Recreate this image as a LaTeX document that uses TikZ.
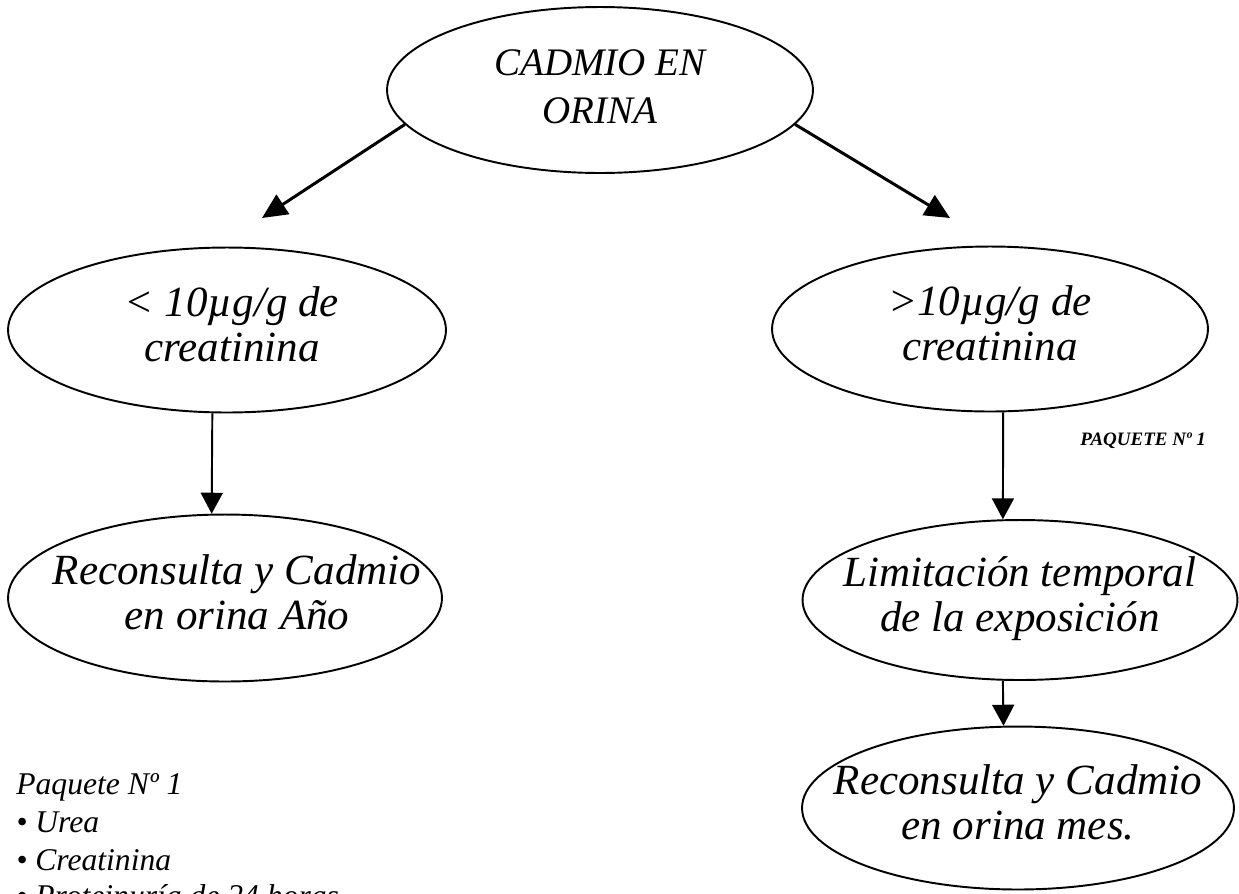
\documentclass[tikz,border=0pt]{standalone}
\usepackage{fontspec}
\setmainfont{Liberation Serif}
\usetikzlibrary{shapes.geometric,arrows.meta}
\newcommand{\twolines}[3][0pt]{\makebox[0pt]{\hspace{#1}\begin{tabular}{@{}c@{}}#2\\#3\end{tabular}}}

\begin{document}
\begin{tikzpicture}[x=0.02cm, y=-0.02cm,
  oval/.style={draw, ellipse, line width=1.1pt, inner sep=0pt, font=\itshape\fontsize{24.5}{25.5}\selectfont},
  diag/.style={-{Triangle[length=0.5cm,width=0.46cm]}, line width=1.7pt},
  down/.style={-{Triangle[length=0.42cm,width=0.44cm]}, line width=1.1pt},
  list/.style={anchor=base west, inner sep=0pt, font=\itshape\fontsize{18}{21.6}\selectfont}]
\path[use as bounding box, clip] (0,0) rectangle (1239,893);

% Top ellipse
\node[oval, minimum width=8.52cm, minimum height=3.32cm, font=\itshape\fontsize{22.2}{27.3}\selectfont] (cd) at (600,90) {\twolines{CADMIO EN}{ORINA}};

% Two results
\node[oval, minimum width=8.76cm, minimum height=3.3cm] (lo) at (227,330) {\twolines[0.2cm]{< 10µg/g de}{creatinina}};
\node[oval, minimum width=8.72cm, minimum height=3.3cm] (hi) at (990,329) {\twolines{>10µg/g de}{creatinina}};

% Follow-up
\node[oval, minimum width=8.68cm, minimum height=3.34cm] (yr) at (225,598) {\twolines[0.48cm]{Reconsulta y Cadmio}{en orina Año}};
\node[oval, minimum width=8.7cm, minimum height=3.2cm] (lim) at (1020,600) {\twolines{Limitación temporal}{de la exposición}};
\node[oval, minimum width=8.64cm, minimum height=3.26cm] (mo) at (1018,808) {\twolines{Reconsulta y Cadmio}{en orina mes.}};

% Arrows
\coordinate (ltip) at (262,218);
\coordinate (rtip) at (950,218);
\draw[diag] (cd.190) -- (ltip);
\draw[diag] (cd.350) -- (rtip);
\draw[down] (lo.260) -- (yr.99);
\draw[down] (hi.279) -- (lim.102);
\draw[down] (lim.258) -- (mo.100);

% Package label
\node[anchor=base west, inner sep=0pt, font=\bfseries\itshape\fontsize{10.8}{13}\selectfont] (pk) at (1080,445) {PAQUETE Nº 1};

% Package list
\node[list] (pq) at (16,794) {Paquete Nº 1};
\node[list] (ur) at (16,832) {• Urea};
\node[list] (cr) at (16,870) {• Creatinina};
\node[list] (pr) at (16,906) {• Proteinuría de 24 horas};

\end{tikzpicture}
\end{document}
